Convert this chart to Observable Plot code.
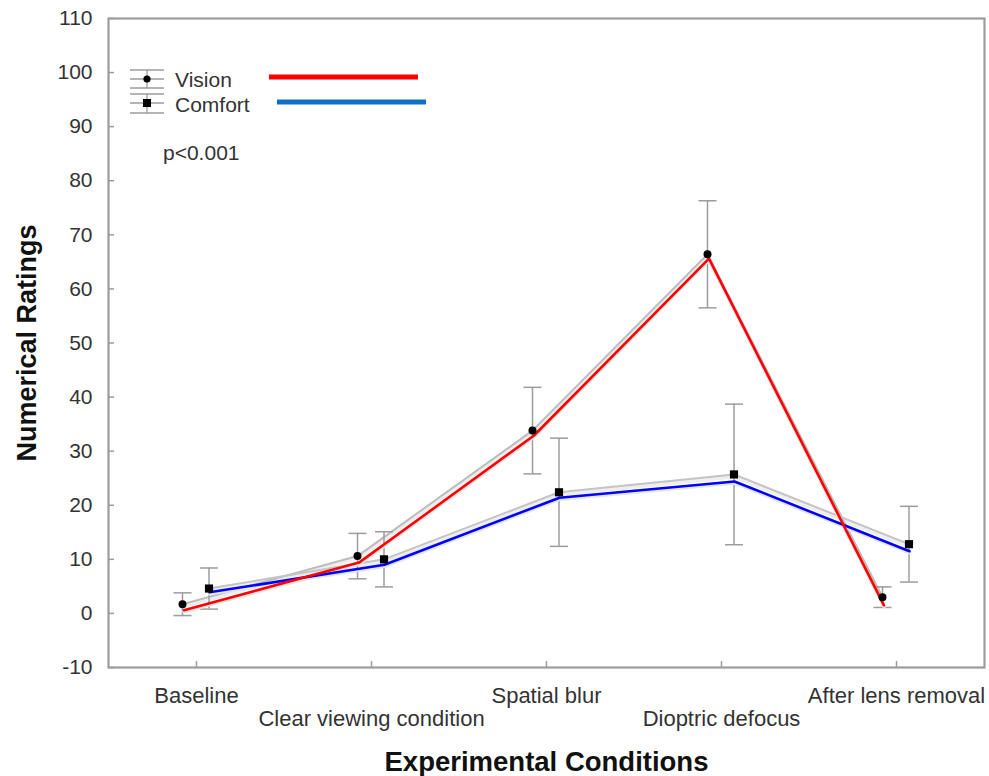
<!DOCTYPE html>
<html>
<head>
<meta charset="utf-8">
<script src="https://cdn.jsdelivr.net/npm/d3@7"></script>
<script src="https://cdn.jsdelivr.net/npm/@observablehq/plot@0.6"></script>
<style>
  html, body { margin: 0; padding: 0; background: #fff; }
  #chart { width: 989px; height: 776px; }
</style>
</head>
<body>
<div id="chart"></div>
<script>
// ---- data ----
const conditions = ["Baseline", "Clear viewing condition", "Spatial blur", "Dioptric defocus", "After lens removal"];
const row1Labels = ["Baseline", "Spatial blur", "After lens removal"];
const row2Labels = ["Clear viewing condition", "Dioptric defocus"];
const visionMean = [1.7, 10.6, 33.8, 66.4, 3.0];
const visionErr = [2.1, 4.2, 8.0, 9.9, 1.9];
const comfortMean = [4.6, 10.0, 22.4, 25.7, 12.8];
const comfortErr = [3.8, 5.1, 10.0, 13.0, 7.0];
const visionTrend = [0.6, 9.4, 32.9, 65.6, 1.5];   // red overlay
const comfortTrend = [3.9, 9.0, 21.4, 24.4, 11.5]; // blue overlay
const yTicks = [-10, 0, 10, 20, 30, 40, 50, 60, 70, 80, 90, 100, 110];

const vision = conditions.map((c, i) => ({c, m: visionMean[i], lo: visionMean[i] - visionErr[i], hi: visionMean[i] + visionErr[i], t: visionTrend[i]}));
const comfort = conditions.map((c, i) => ({c, m: comfortMean[i], lo: comfortMean[i] - comfortErr[i], hi: comfortMean[i] + comfortErr[i], t: comfortTrend[i]}));

const capSymbol = {draw(ctx) { ctx.moveTo(-9, 0); ctx.lineTo(9, 0); }};
const VDX = -14, CDX = 12.5;
const grey = "#9c9c9c";
const FONT = "'Liberation Sans', Arial, Helvetica, sans-serif";

const errorMarks = (data, dx) => [
  Plot.ruleX(data, {x: "c", y1: "lo", y2: "hi", dx, stroke: grey, strokeWidth: 1.5}),
  Plot.dot(data, {x: "c", y: "lo", dx, symbol: capSymbol, stroke: grey, fill: "none", strokeWidth: 1.5}),
  Plot.dot(data, {x: "c", y: "hi", dx, symbol: capSymbol, stroke: grey, fill: "none", strokeWidth: 1.5})
];

const svg = Plot.plot({
  width: 989,
  height: 776,
  marginTop: 18,
  marginBottom: 109,
  marginLeft: 108,
  marginRight: 5,
  style: {fontFamily: FONT, fontSize: "21px", color: "#333", background: "#fff"},
  x: {type: "point", domain: conditions, padding: 0.5, label: null},
  y: {domain: [-10, 110], label: null},
  marks: [
    // axes
    Plot.axisY({ticks: yTicks, tickFormat: d => String(d), tickSize: -6, tickPadding: 22, stroke: grey, strokeWidth: 1.5, fontSize: 21, label: null}),
    Plot.axisX({tickSize: -6, tickFormat: () => "", stroke: grey, strokeWidth: 1.5, label: null}),
    Plot.axisX({ticks: row1Labels, tickSize: 0, tickPadding: 20, fontSize: 22, label: null}),
    Plot.axisX({ticks: row2Labels, tickSize: 0, tickPadding: 43, fontSize: 22, label: null}),
    Plot.frame({stroke: grey, strokeWidth: 2.2}),
    // original grey connecting lines (with soft shadow)
    Plot.line(vision, {x: "c", y: "m", dx: VDX, dy: 2, stroke: "#eeeeee", strokeWidth: 4}),
    Plot.line(comfort, {x: "c", y: "m", dx: CDX, dy: 2, stroke: "#eeeeee", strokeWidth: 4}),
    Plot.line(vision, {x: "c", y: "m", dx: VDX, stroke: "#bcbcbc", strokeWidth: 2}),
    Plot.line(comfort, {x: "c", y: "m", dx: CDX, stroke: "#c4c4c4", strokeWidth: 2}),
    // error bars
    ...errorMarks(vision, VDX),
    ...errorMarks(comfort, CDX),
    // overlay trend lines
    Plot.line(comfort, {x: "c", y: "t", dx: 13, dy: 1.5, stroke: "#e6e6e6", strokeWidth: 3.5}),
    Plot.line(vision, {x: "c", y: "t", dx: -12.5, dy: 1.5, stroke: "#e6e6e6", strokeWidth: 3.5}),
    Plot.line(comfort, {x: "c", y: "t", dx: 13, stroke: "#0000ff", strokeWidth: 2.6}),
    Plot.line(vision, {x: "c", y: "t", dx: -12.5, stroke: "#ff0000", strokeWidth: 2.6}),
    // markers
    Plot.dot(vision, {x: "c", y: "m", dx: VDX, r: 4, fill: "#000", symbol: "circle"}),
    Plot.dot(comfort, {x: "c", y: "m", dx: CDX, r: 4.6, fill: "#000", symbol: "square"}),
    // axis titles
    Plot.text(["Numerical Ratings"], {frameAnchor: "left", textAnchor: "middle", lineAnchor: "middle", rotate: -90, dx: -81, fontSize: 27, fontWeight: "bold", fill: "#111"}),
    Plot.text(["Experimental Conditions"], {frameAnchor: "bottom", textAnchor: "middle", lineAnchor: "middle", dy: 95, fontSize: 27.5, fontWeight: "bold", fill: "#111"})
  ]
});

// legend + annotation
const g = d3.select(svg).append("g")
  .attr("font-family", FONT)
  .attr("text-anchor", "start")
  .style("text-anchor", "start");
const legendItems = [
  {name: "Vision", top: 70, mid: 79, bot: 88, sym: "circle", text: 87, swatch: "#ff0000", sx1: 269, sx2: 418, sy: 77},
  {name: "Comfort", top: 94, mid: 103, bot: 113, sym: "square", text: 112, swatch: "#0f6fc6", sx1: 277, sx2: 426, sy: 102}
];
legendItems.forEach(d => {
  [d.top, d.mid, d.bot].forEach(yy => g.append("line").attr("x1", 130).attr("x2", 164).attr("y1", yy).attr("y2", yy).attr("stroke", grey).attr("stroke-width", 1.3));
  g.append("line").attr("x1", 147).attr("x2", 147).attr("y1", d.top).attr("y2", d.bot).attr("stroke", grey).attr("stroke-width", 1.3);
  if (d.sym === "circle") g.append("circle").attr("cx", 147).attr("cy", d.mid).attr("r", 3.6).attr("fill", "#000");
  else g.append("rect").attr("x", 143).attr("y", d.mid - 4).attr("width", 8).attr("height", 8).attr("fill", "#000");
  g.append("text").attr("x", 175).attr("y", d.text).style("font-size", "21px").attr("fill", "#333").text(d.name);
  g.append("line").attr("x1", d.sx1).attr("x2", d.sx2).attr("y1", d.sy).attr("y2", d.sy).attr("stroke", d.swatch).attr("stroke-width", 5);
});
g.append("text").attr("x", 163).attr("y", 160).style("font-size", "21px").attr("fill", "#333").text("p<0.001");

document.getElementById("chart").appendChild(svg);
</script>
</body>
</html>
